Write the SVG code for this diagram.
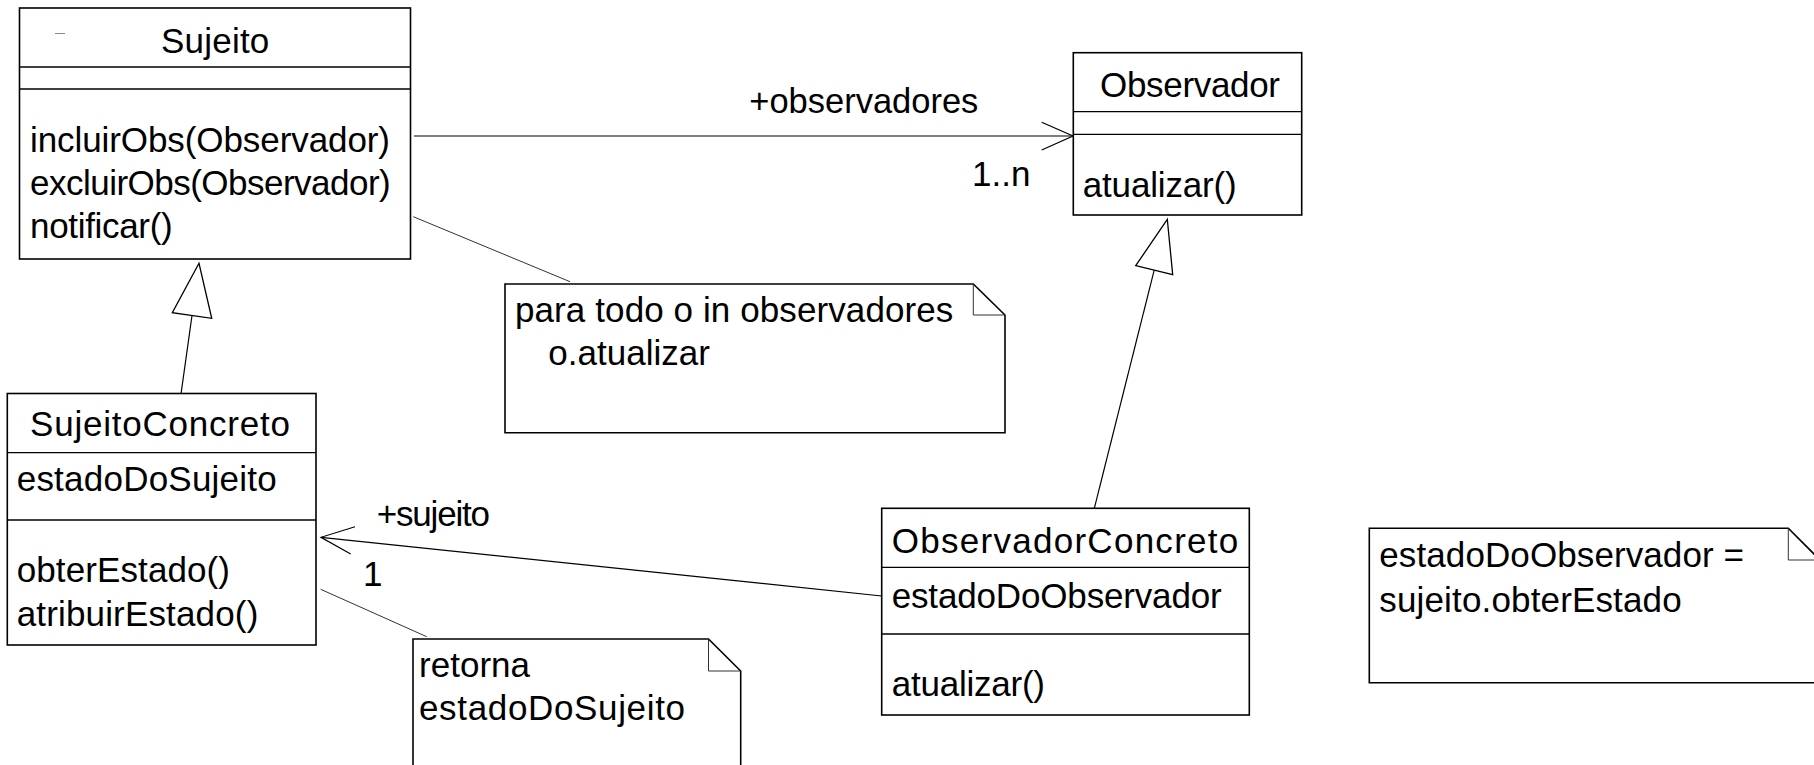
<svg xmlns="http://www.w3.org/2000/svg" width="1814" height="765" viewBox="0 0 1814 765">
<style>
text{font-family:"Liberation Sans",Arial,sans-serif;font-size:35px;fill:#000}
.box{fill:#fff;stroke:#000;stroke-width:1.6}
.div{stroke:#000;stroke-width:1.3}
.con{stroke:#000;stroke-width:1.2;fill:none}
.nl{stroke:#333;stroke-width:1;fill:none}
.tri{fill:#fff;stroke:#000;stroke-width:1.3}
</style>
<rect width="1814" height="765" fill="#fff"/>
<g id="connectors">
<line class="con" x1="414" y1="136" x2="1073" y2="136"/>
<polyline class="con" points="1041.7,122.3 1073,136 1041.7,150"/>
<line class="con" x1="881.7" y1="596" x2="321" y2="537.3"/>
<polyline class="con" points="355,526.7 321,537.3 350.7,554"/>
<line class="con" x1="192" y1="315.5" x2="181" y2="394"/>
<polygon class="tri" points="199,263.3 172.3,312.7 211.7,318.3"/>
<line class="con" x1="1154.2" y1="270.2" x2="1094.3" y2="508.3"/>
<polygon class="tri" points="1167.3,219.3 1135.7,265.7 1172.7,274.7"/>
<line class="nl" x1="413.3" y1="216.7" x2="570" y2="281.7"/>
<line class="nl" x1="320.7" y1="589.3" x2="426.7" y2="636.7"/>
<text x="749.3" y="113.3" textLength="229" lengthAdjust="spacingAndGlyphs">+observadores</text>
<text x="972" y="186">1..n</text>
<text x="376.7" y="526" textLength="113.3">+sujeito</text>
<text x="363" y="586">1</text>
</g>
<g id="Sujeito">
<rect class="box" x="19.5" y="8" width="391" height="251"/>
<line class="div" x1="19.5" y1="67" x2="410.5" y2="67"/>
<line class="div" x1="19.5" y1="89" x2="410.5" y2="89"/>
<line stroke="#888" stroke-width="1" x1="55" y1="33.5" x2="65" y2="33.5"/>
<text x="161" y="53" textLength="108.3">Sujeito</text>
<text x="30" y="151.5" textLength="360">incluirObs(Observador)</text>
<text x="30" y="195" textLength="360.7">excluirObs(Observador)</text>
<text x="30" y="238" textLength="142.7">notificar()</text>
</g>
<g id="Observador">
<rect class="box" x="1073.3" y="52.7" width="228.4" height="162.3"/>
<line class="div" x1="1073.3" y1="111.7" x2="1301.7" y2="111.7"/>
<line class="div" x1="1073.3" y1="134.3" x2="1301.7" y2="134.3"/>
<text x="1100" y="96.7" textLength="180">Observador</text>
<text x="1082.7" y="196.7" textLength="154">atualizar()</text>
</g>
<g id="SujeitoConcreto">
<rect class="box" x="7.3" y="393.5" width="308.7" height="251.5"/>
<line class="div" x1="7.3" y1="452.7" x2="316" y2="452.7"/>
<line class="div" x1="7.3" y1="520" x2="316" y2="520"/>
<text x="30" y="436" textLength="260">SujeitoConcreto</text>
<text x="16.7" y="491" textLength="260">estadoDoSujeito</text>
<text x="16.7" y="582" textLength="213.3">obterEstado()</text>
<text x="16.7" y="626" textLength="241.6">atribuirEstado()</text>
</g>
<g id="ObservadorConcreto">
<rect class="box" x="881.7" y="508.3" width="367.6" height="206.7"/>
<line class="div" x1="881.7" y1="567.3" x2="1249.3" y2="567.3"/>
<line class="div" x1="881.7" y1="634" x2="1249.3" y2="634"/>
<text x="891.7" y="553.3" textLength="346.6">ObservadorConcreto</text>
<text x="891.7" y="607.5" textLength="330">estadoDoObservador</text>
<text x="891.7" y="696" textLength="153.3">atualizar()</text>
</g>
<g id="note1">
<path class="box" d="M505,284 H973.3 L1005,315 V432.7 H505 Z"/>
<path class="nl" d="M973.3,284 V315 H1005"/>
<text x="515" y="322" textLength="438.3">para todo o in observadores</text>
<text x="548.3" y="365" textLength="161.7">o.atualizar</text>
</g>
<g id="note2">
<path class="box" d="M413,639 H708.5 L740.7,671 V775 H413 Z"/>
<path class="nl" d="M708.5,639 V671 H740.7"/>
<text x="419" y="677" textLength="111">retorna</text>
<text x="419" y="720" textLength="266">estadoDoSujeito</text>
</g>
<g id="note3">
<path class="box" d="M1369.3,528.3 H1788.3 L1820,560 V682.7 H1369.3 Z"/>
<path class="nl" d="M1788.3,528.3 V560 H1820"/>
<text x="1379.3" y="567" textLength="364.7">estadoDoObservador =</text>
<text x="1379.3" y="612" textLength="302.4">sujeito.obterEstado</text>
</g>
</svg>
